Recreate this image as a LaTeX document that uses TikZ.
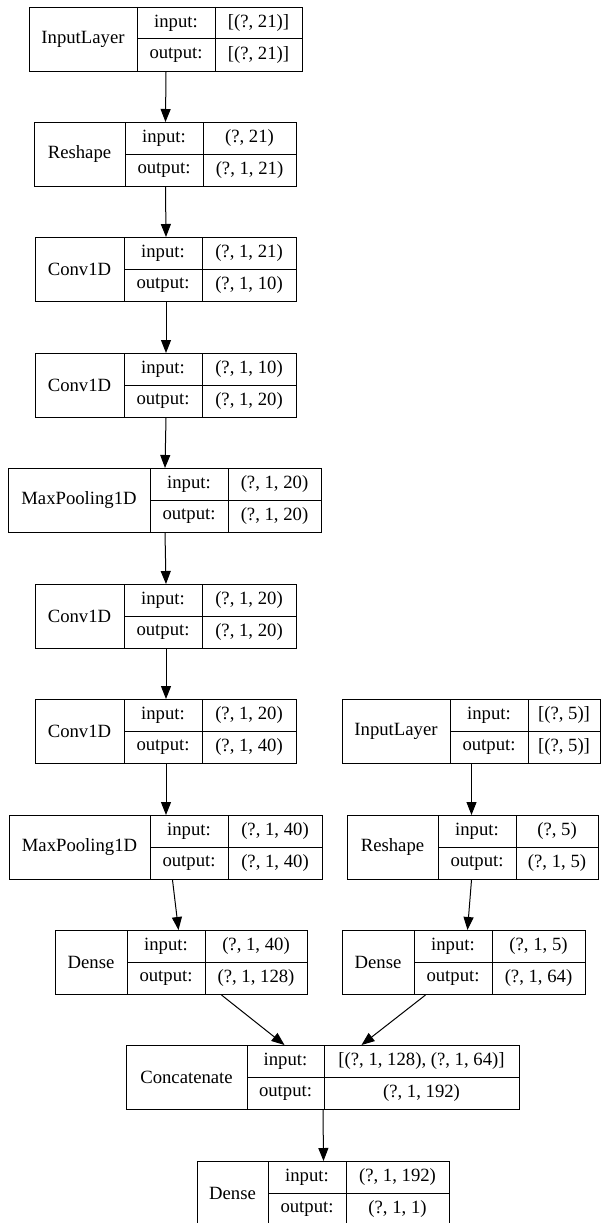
\documentclass[tikz,border=0pt]{standalone}
\usepackage{fontspec}
\setmainfont{Liberation Serif}
\usetikzlibrary{arrows.meta,calc}
\tikzset{
  boxst/.style={draw, line width=1pt, inner sep=0pt, anchor=north west},
  cellline/.style={line width=1pt},
  txt/.style={inner sep=0pt, font=\fontsize{18.7}{22}\selectfont},
  arr/.style={line width=1pt, -{Triangle[length=13pt,width=10pt]}}
}
% name, xl, x1, x2, xr, ytop, label, input, output
\newcommand\kbox[9]{%
  \node[boxst, minimum width={(#5-#2)*1pt}, minimum height=64pt] (#1) at (#2,#6) {};
  \draw[cellline] (#3,#6) -- (#3,{#6+64});
  \draw[cellline] (#4,#6) -- (#4,{#6+64});
  \draw[cellline] (#3,{#6+32}) -- (#5,{#6+32});
  \node[txt] (#1l) at ({(#2+#3)/2},{#6+32}) {#7};
  \node[txt] (#1i) at ({(#3+#4)/2},{#6+16}) {input:};
  \node[txt] (#1o) at ({(#3+#4)/2},{#6+48}) {output:};
  \node[txt] (#1a) at ({(#4+#5)/2},{#6+16}) {#8};
  \node[txt] (#1b) at ({(#4+#5)/2},{#6+48}) {#9};
}
\begin{document}
\begin{tikzpicture}[x=1pt,y=-1pt]
\useasboundingbox (0,0) rectangle (601,1223);
\kbox{inA}{29}{137}{215}{302}{7}{InputLayer}{[(?, 21)]}{[(?, 21)]}
\kbox{rsA}{34}{125}{203}{296}{122}{Reshape}{(?, 21)}{(?, 1, 21)}
\kbox{cvA}{35}{124}{202}{296}{237}{Conv1D}{(?, 1, 21)}{(?, 1, 10)}
\kbox{cvB}{35}{124}{202}{296}{353}{Conv1D}{(?, 1, 10)}{(?, 1, 20)}
\kbox{mpA}{8}{150}{228}{321}{468}{MaxPooling1D}{(?, 1, 20)}{(?, 1, 20)}
\kbox{cvC}{35}{124}{202}{296}{584}{Conv1D}{(?, 1, 20)}{(?, 1, 20)}
\kbox{cvD}{35}{124}{202}{296}{699}{Conv1D}{(?, 1, 20)}{(?, 1, 40)}
\kbox{mpB}{9}{150}{228}{322}{815}{MaxPooling1D}{(?, 1, 40)}{(?, 1, 40)}
\kbox{dnA}{55}{127}{205}{307}{930}{Dense}{(?, 1, 40)}{(?, 1, 128)}
\kbox{inB}{342}{450}{528}{600}{699}{InputLayer}{[(?, 5)]}{[(?, 5)]}
\kbox{rsB}{347}{438}{516}{598}{815}{Reshape}{(?, 5)}{(?, 1, 5)}
\kbox{dnB}{342}{414}{492}{585}{930}{Dense}{(?, 1, 5)}{(?, 1, 64)}
\kbox{cat}{126}{247}{324}{519}{1045}{Concatenate}{[(?, 1, 128), (?, 1, 64)]}{(?, 1, 192)}
\kbox{dnC}{197}{268}{346}{449}{1161}{Dense}{(?, 1, 192)}{(?, 1, 1)}

\draw[arr] (inA.south) -- (rsA.north);
\draw[arr] (rsA.south) -- (cvA.north);
\draw[arr] (cvA.south) -- (cvB.north);
\draw[arr] (cvB.south) -- (mpA.north);
\draw[arr] (mpA.south) -- (cvC.north);
\draw[arr] (cvC.south) -- (cvD.north);
\draw[arr] (cvD.south) -- (mpB.north);
\draw[arr] ([xshift=6.5pt]mpB.south) -- ([xshift=-3pt]dnA.north);
\draw[arr] (inB.south) -- ([xshift=-1.5pt]rsB.north);
\draw[arr] ([xshift=-1.5pt]rsB.south) -- ([xshift=3.5pt]dnB.north);
\draw[arr] ([xshift=40pt]dnA.south) -- ([xshift=-38.5pt]cat.north);
\draw[arr] ([xshift=-38.5pt]dnB.south) -- ([xshift=38.5pt]cat.north);
\draw[arr] (cat.south) -- (dnC.north);
\end{tikzpicture}
\end{document}
